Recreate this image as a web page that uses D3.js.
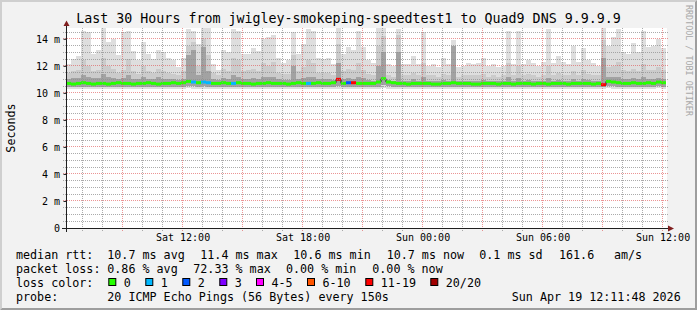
<!DOCTYPE html>
<html><head><meta charset="utf-8">
<script src="https://cdn.jsdelivr.net/npm/d3@7/dist/d3.min.js"></script>
<style>html,body{margin:0;padding:0;background:#f2f2f2;} svg{display:block;}</style>
</head><body>
<svg id="c" width="697" height="310"></svg>
<script>
// ---------- DATA ----------
const titleText = "Last 30 Hours from jwigley-smokeping-speedtest1 to Quad9 DNS 9.9.9.9";
const yTickValues = [0, 2, 4, 6, 8, 10, 12, 14];
const yTickLabels = ["0", "2 m", "4 m", "6 m", "8 m", "10 m", "12 m", "14 m"];
const endTime = Date.UTC(2026, 3, 19, 12, 11, 48);
const bucketMinutes = 15;

// sorted ping quantiles per 15-minute bucket (ms)
const pingMax = [
12.1,12.5,12.75,14.6,14.5,12.9,13.2,14.8,13.8,14.0,
12.8,14.5,14.6,13.1,12.4,13.8,12.9,12.5,13.2,13.0,
12.6,12.4,11.9,12.6,14.7,14.6,13.6,14.8,14.8,12.1,
11.7,13.2,13.0,14.7,14.6,12.9,12.9,13.3,13.1,14.0,
14.1,14.3,12.6,12.2,12.4,14.5,12.9,13.6,14.7,14.6,
12.6,12.5,12.6,12.1,14.8,12.9,13.4,13.2,14.6,13.4,
12.4,12.2,14.8,14.8,12.1,12.0,14.7,12.1,12.1,12.7,
12.1,14.5,12.0,12.1,11.9,12.6,12.1,13.9,11.9,12.0,
12.2,12.1,12.2,12.6,12.0,12.1,11.9,12.0,14.6,12.1,
14.6,12.1,12.4,12.2,12.0,12.3,14.7,12.2,12.7,12.3,
12.1,13.5,12.3,13.3,12.4,12.2,12.0,14.8,13.5,14.1,
14.7,13.0,12.9,13.7,13.0,14.6,13.4,13.5,14.0,13.3];
const pingHi = [
11.5,11.6,11.7,12.4,12.0,11.6,11.7,12.6,12.0,11.8,
11.5,11.7,12.5,11.6,11.4,12.0,11.6,11.5,11.8,11.6,
11.5,11.4,11.3,11.6,13.5,13.8,12.0,14.0,12.8,11.5,
11.3,11.8,11.6,12.6,12.4,11.6,11.7,11.8,11.6,12.2,
12.0,12.3,11.5,11.4,11.4,12.8,11.6,11.9,12.4,12.2,
11.5,11.5,11.5,11.3,13.6,11.6,11.8,11.7,12.2,11.7,
11.4,11.3,13.5,14.2,11.3,11.2,14.3,11.3,11.3,11.5,
11.3,12.2,11.3,11.3,11.2,11.4,11.3,13.2,11.2,11.3,
11.3,11.3,11.3,11.4,11.2,11.3,11.2,11.3,12.2,11.3,
12.0,11.3,11.4,11.3,11.2,11.3,12.0,11.3,11.5,11.3,
11.3,11.6,11.3,11.7,11.4,11.3,11.3,13.9,11.9,12.0,
12.3,11.7,11.6,11.8,11.6,12.1,11.7,11.7,11.9,11.7];
const pingMid = [
11.05,11.1,11.1,11.3,11.2,11.1,11.1,11.4,11.2,11.1,
11.0,11.1,11.3,11.05,11.0,11.2,11.05,11.0,11.15,11.05,
11.0,11.0,10.95,11.05,12.8,13.2,11.3,13.4,11.6,11.0,
10.95,11.1,11.05,11.3,11.2,11.0,11.05,11.1,11.0,11.2,
11.15,11.2,11.0,10.95,10.95,12.0,11.05,11.1,11.2,11.15,
11.0,11.0,11.0,10.95,12.2,11.05,11.1,11.05,11.2,11.1,
10.95,10.9,12.0,13.0,10.95,10.9,13.0,10.9,10.9,11.0,
10.9,11.2,10.9,10.9,10.9,10.95,10.9,13.5,10.9,10.9,
10.9,10.9,10.9,10.95,10.9,10.9,10.9,10.9,11.2,10.9,
11.1,10.9,10.95,10.9,10.9,10.9,11.1,10.9,10.95,10.9,
10.9,11.0,10.9,11.05,10.95,10.9,10.9,12.6,11.2,11.15,
11.2,11.05,11.0,11.1,11.0,11.15,11.05,11.05,11.1,11.05];
const pingLo = [
10.45,10.45,10.4,10.45,10.45,10.4,10.45,10.45,10.4,10.45,
10.45,10.4,10.45,10.45,10.45,10.4,10.45,10.45,10.4,10.45,
10.45,10.45,10.4,10.45,10.5,10.5,10.45,10.5,10.45,10.45,
10.4,10.45,10.45,10.45,10.45,10.4,10.45,10.45,10.4,10.45,
10.45,10.45,10.4,10.45,10.45,10.45,10.4,10.45,10.45,10.45,
10.4,10.45,10.45,10.45,10.5,10.45,10.45,10.45,10.45,10.45,
10.45,10.4,10.45,10.55,10.5,10.45,10.45,10.45,10.4,10.45,
10.45,10.45,10.4,10.4,10.4,10.45,10.45,10.45,10.4,10.45,
10.4,10.4,10.45,10.45,10.4,10.45,10.4,10.45,10.45,10.4,
10.45,10.45,10.4,10.45,10.4,10.45,10.45,10.4,10.45,10.45,
10.4,10.45,10.45,10.45,10.4,10.45,10.4,10.45,10.5,10.5,
10.45,10.45,10.45,10.4,10.45,10.45,10.45,10.45,10.5,10.45];
const pingMin = [
10.3,10.25,10.3,10.3,10.25,10.3,10.3,10.3,10.25,10.3,
10.3,10.25,10.3,10.3,10.3,10.25,10.3,10.3,10.25,10.3,
10.3,10.3,10.25,10.3,10.35,10.3,10.3,10.3,10.3,10.3,
10.25,10.3,10.3,10.3,10.3,10.25,10.3,10.3,10.25,10.3,
10.3,10.3,10.25,10.3,10.3,10.3,10.25,10.3,10.3,10.3,
10.25,10.3,10.3,10.3,10.3,10.3,10.3,10.3,10.3,10.3,
10.3,10.25,10.3,10.35,10.3,10.3,10.3,10.3,10.25,10.3,
10.3,10.3,10.25,10.25,10.25,10.3,10.3,10.3,10.25,10.3,
10.25,10.25,10.3,10.3,10.25,10.3,10.25,10.3,10.3,10.25,
10.3,10.3,10.25,10.3,10.25,10.3,10.3,10.25,10.3,10.3,
10.25,10.3,10.3,10.3,10.25,10.3,10.25,10.3,10.35,10.3,
10.3,10.3,10.3,10.25,10.3,10.3,10.3,10.3,10.35,10.3];
const medianRtt = [
10.7,10.65,10.7,10.75,10.7,10.65,10.7,10.7,10.65,10.7,
10.75,10.7,10.7,10.65,10.7,10.7,10.75,10.7,10.65,10.7,
10.7,10.75,10.7,10.75,10.85,10.8,10.75,10.8,10.75,10.7,
10.7,10.75,10.7,10.7,10.75,10.7,10.7,10.65,10.7,10.7,
10.75,10.7,10.7,10.7,10.65,10.7,10.75,10.7,10.7,10.7,
10.75,10.7,10.7,10.75,11.0,10.7,10.75,10.75,10.7,10.7,
10.7,10.7,10.8,11.05,10.8,10.75,10.7,10.7,10.65,10.7,
10.7,10.7,10.7,10.65,10.65,10.7,10.7,10.75,10.7,10.7,
10.7,10.65,10.65,10.7,10.7,10.7,10.65,10.7,10.7,10.65,
10.7,10.7,10.7,10.65,10.7,10.7,10.65,10.7,10.7,10.7,
10.65,10.7,10.7,10.7,10.7,10.65,10.7,10.6,10.85,10.8,
10.75,10.7,10.7,10.75,10.7,10.7,10.75,10.7,10.8,10.75];
const lostPings = [
0,0,0,0,0,0,0,0,0,0,
0,0,0,0,0,0,0,0,0,0,
0,0,0,0,0,1,0,1,1,0,
0,0,0,1,0,0,0,0,0,0,
0,0,0,0,0,0,0,0,1,0,
0,0,0,0,14,0,2,12,0,0,
0,0,0,0,0,0,0,0,0,0,
0,0,0,0,0,0,0,0,0,0,
0,0,0,0,0,0,0,0,0,0,
0,0,0,0,0,0,0,0,0,0,
0,0,0,0,0,0,0,12,0,0,
0,0,0,0,0,0,0,0,0,0];

const lossLabels = ["0", "1", "2", "3", "4-5", "6-10", "11-19", "20/20"];
const lossUpper  = [0, 1, 2, 3, 5, 10, 19, 20];
const lossColors = ["#26ff00", "#00b8ff", "#0059ff", "#7e00ff", "#ff00ff", "#ff5500", "#ff0000", "#a10000"];

const rttStats  = ["10.7 ms avg", "11.4 ms max", "10.6 ms min", "10.7 ms now", "0.1 ms sd", "161.6", "am/s"];
const lossStats = ["0.86 % avg", "72.33 % max", "0.00 % min", "0.00 % now"];
const probeText = "20 ICMP Echo Pings (56 Bytes) every 150s";
const stampText = "Sun Apr 19 12:11:48 2026";

// ---------- LAYOUT ----------
const W = 697, H = 310;
const rttCols  = [107.3, 200.3, 293.3, 386.7, 479.3, 559, 614];
const lossCols = [107.3, 193.3, 286, 372.3];
const boxCols  = [108.3, 145.3, 182.3, 219.3, 256, 307, 365.3, 430.3];
const mono = "'DejaVu Sans Mono', monospace";

const N = pingMax.length;
const STEP = bucketMinutes * 60 * 1000;
const startTime = endTime - N * STEP;

const rows = d3.range(N).map(i => ({
  t: new Date(startTime + i * STEP),
  mn: pingMin[i], lo: pingLo[i], mid: pingMid[i], hi: pingHi[i], mx: pingMax[i],
  med: medianRtt[i], loss: lostPings[i]
}));
const stepRows = rows.concat([Object.assign({}, rows[N - 1], {t: new Date(endTime)})]);

const x = d3.scaleUtc().domain([new Date(startTime), new Date(endTime)]).range([66, 666]);
const y = d3.scaleLinear().domain([0, 14.8]).range([228, 28]);
const px = v => Math.floor(v) + 0.5;

const svg = d3.select("#c");
svg.append("rect").attr("width", W).attr("height", H).attr("fill", "#f2f2f2");
svg.append("path").attr("d", `M0,0H${W}L${W-2},2H2V${H-2}L0,${H}Z`).attr("fill", "#cfcfcf");
svg.append("path").attr("d", `M${W},0V${H}H0L2,${H-2}H${W-2}V2Z`).attr("fill", "#9e9e9e");

svg.append("rect").attr("x", 66).attr("y", 28).attr("width", 601).attr("height", 200).attr("fill", "#ffffff");

svg.append("clipPath").attr("id", "plotclip").append("rect")
  .attr("x", 66).attr("y", 28).attr("width", 601).attr("height", 200);
const plot = svg.append("g").attr("clip-path", "url(#plotclip)");

function band(lowKey, highKey, color) {
  const a = d3.area().curve(d3.curveStepAfter)
    .x(d => x(d.t)).y0(d => y(d[lowKey])).y1(d => y(d[highKey]));
  plot.append("path").datum(stepRows).attr("d", a).attr("fill", color)
    .attr("shape-rendering", "crispEdges");
}
band("mn", "mx", "#dedede");
band("lo", "hi", "#cbcbcb");
band("lo", "mid", "#a2a2a2");

plot.append("path").datum(stepRows)
  .attr("d", d3.line().curve(d3.curveStepAfter).x(d => x(d.t)).y(d => y(d.med)))
  .attr("fill", "none").attr("stroke", "#1a1a1a").attr("stroke-width", 1);
const lossIndex = n => lossUpper.findIndex(u => n <= u);
plot.selectAll("path.med").data(rows).enter().append("path").attr("class", "med")
  .attr("d", (d, i) => `M${x(d.t)},${y(d.med)}H${x(stepRows[i + 1].t)}`)
  .attr("stroke", d => lossColors[lossIndex(d.loss)])
  .attr("stroke-width", 3).attr("fill", "none");

// grid
const grid = svg.append("g").attr("shape-rendering", "crispEdges");
const hourTicks = d3.utcHour.every(1).range(new Date(startTime), new Date(endTime));
hourTicks.forEach(t => {
  const major = t.getUTCHours() % 3 === 0;
  grid.append("line").attr("x1", px(x(t))).attr("x2", px(x(t))).attr("y1", 28).attr("y2", 231)
    .attr("stroke", major ? "rgba(222,79,79,0.6)" : "rgba(143,143,143,0.75)")
    .attr("stroke-dasharray", "1,1");
});
d3.range(1, 30).map(i => i * 0.5).forEach(v => {
  const major = v % 2 === 0;
  grid.append("line").attr("x1", 63).attr("x2", 668).attr("y1", px(y(v))).attr("y2", px(y(v)))
    .attr("stroke", major ? "rgba(222,79,79,0.6)" : "rgba(143,143,143,0.75)")
    .attr("stroke-dasharray", "1,1");
});

// axes lines + arrows
svg.append("line").attr("x1", 62).attr("x2", 669).attr("y1", 228.5).attr("y2", 228.5)
  .attr("stroke", "#1f1f1f").attr("shape-rendering", "crispEdges");
svg.append("line").attr("x1", 66.5).attr("x2", 66.5).attr("y1", 232).attr("y2", 24)
  .attr("stroke", "#1f1f1f").attr("shape-rendering", "crispEdges");
svg.append("path").attr("d", "M668,225.5L674,228.5L668,231.5Z").attr("fill", "#801f1f");
svg.append("path").attr("d", "M63.5,26L66.5,20.5L69.5,26Z").attr("fill", "#801f1f");

const yAxis = d3.axisLeft(y).tickValues(yTickValues)
  .tickFormat((d, i) => yTickLabels[i]).tickSizeInner(3).tickSizeOuter(0).tickPadding(3.5);
const gy = svg.append("g").attr("transform", "translate(66.5,0)").call(yAxis);
gy.select(".domain").remove();
gy.selectAll("line").attr("stroke", "#1f1f1f");
gy.selectAll("text").attr("font-family", mono).attr("font-size", "10px").attr("fill", "#000").attr("dy", "0.36em");

const xAxis = d3.axisBottom(x).ticks(d3.utcHour.every(6))
  .tickFormat(d3.utcFormat("%a %H:%M")).tickSize(0).tickPadding(5.8);
const gx = svg.append("g").attr("transform", "translate(0.5,228.5)").call(xAxis);
gx.select(".domain").remove();
gx.selectAll("text").attr("font-family", mono).attr("font-size", "10px").attr("fill", "#000");

svg.append("text").attr("x", W / 2).attr("y", 23).attr("text-anchor", "middle")
  .attr("font-family", mono).attr("font-size", "13.3px").attr("fill", "#000").text(titleText);

svg.append("text").attr("transform", "translate(14.8,128) rotate(-90)").attr("text-anchor", "middle")
  .attr("font-family", mono).attr("font-size", "11.7px").attr("fill", "#000").text("Seconds");

svg.append("text").attr("transform", "translate(685.5,5) rotate(90)").attr("text-anchor", "start")
  .attr("font-family", mono).attr("font-size", "8.4px").attr("fill", "#a8a8a8").text("RRDTOOL / TOBI OETIKER");

const lg = svg.append("g").attr("font-family", mono).attr("font-size", "11.7px").attr("fill", "#000");
const put = (xx, yy, s, anchor) => lg.append("text").attr("x", xx).attr("y", yy)
  .attr("text-anchor", anchor || "start").attr("xml:space", "preserve").text(s);
put(16, 258.5, "median rtt:");
rttStats.forEach((s, i) => put(rttCols[i], 258.5, s));
put(16, 272.5, "packet loss:");
lossStats.forEach((s, i) => put(lossCols[i], 272.5, s));
put(16, 286.5, "loss color:");
lossLabels.forEach((s, i) => {
  lg.append("rect").attr("x", boxCols[i] + 0.5).attr("y", 278.5).attr("width", 7).attr("height", 7)
    .attr("fill", lossColors[i]).attr("stroke", "#000").attr("stroke-width", 1);
  put(boxCols[i] + 15.5, 286.5, s);
});
put(16, 300.5, "probe:");
put(107.3, 300.5, probeText);
put(680.7, 300.5, stampText, "end");
</script>
</body></html>
